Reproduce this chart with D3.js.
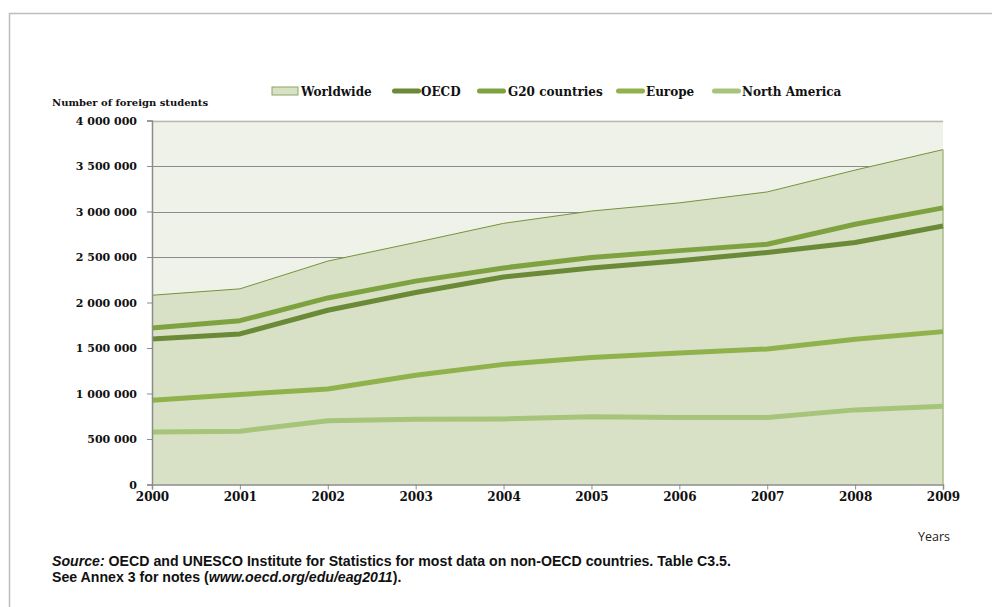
<!DOCTYPE html>
<html><head><meta charset="utf-8">
<script src="https://cdn.jsdelivr.net/npm/d3@7"></script>
<style>
body{margin:0;background:#fff;}
svg{display:block;}
.serif{font-family:"DejaVu Serif",serif;font-weight:bold;fill:#111;}
</style></head>
<body><svg id="c" width="992" height="607"></svg>
<script>
const years = [2000,2001,2002,2003,2004,2005,2006,2007,2008,2009];
const worldwide = [2080000,2150000,2455000,2660000,2870000,3005000,3095000,3215000,3455000,3680000];
const oecd = [1600000,1655000,1915000,2110000,2280000,2380000,2460000,2550000,2660000,2840000];
const g20 = [1720000,1800000,2050000,2235000,2380000,2495000,2570000,2640000,2860000,3040000];
const europe = [925000,990000,1050000,1200000,1320000,1395000,1445000,1490000,1595000,1680000];
const northAmerica = [577000,585000,700000,716000,720000,745000,735000,737000,820000,860000];
const yTicks = [0,500000,1000000,1500000,2000000,2500000,3000000,3500000,4000000];
const lineSeries = [
  {name:"OECD", values:oecd, color:"#6b8a37"},
  {name:"G20 countries", values:g20, color:"#7fa241"},
  {name:"Europe", values:europe, color:"#8fb24c"},
  {name:"North America", values:northAmerica, color:"#a6c57a"}
];

const svg = d3.select("#c");
const L=152, R=943, T=120.5, B=484.5;
const x = d3.scaleLinear().domain([2000,2009]).range([L,R]);
const y = d3.scaleLinear().domain([0,4000000]).range([B,T]);
const fmt = v => d3.format(",")(v).replace(/,/g," ");

// outer frame
svg.append("path").attr("d","M9.5,607 V13.5 H992").attr("fill","none").attr("stroke","#bdbdbd").attr("stroke-width",1.5);

// plot background
svg.append("rect").attr("x",L).attr("y",T).attr("width",R-L).attr("height",B-T).attr("fill","#eff2e8");
// gridlines
svg.append("g").selectAll("line").data(yTicks.filter(d=>d>0)).join("line")
  .attr("x1",L).attr("x2",R).attr("y1",d=>Math.round(y(d))+0.5).attr("y2",d=>Math.round(y(d))+0.5)
  .attr("stroke",(d)=>d===4000000?"#b8b8b8":"#8c8c8c").attr("stroke-width",d=>d===4000000?1.5:1);

// worldwide area
const data = years.map((yr,i)=>({yr, v:worldwide[i]}));
svg.append("path").datum(data)
  .attr("d", d3.area().x(d=>x(d.yr)).y0(B).y1(d=>y(d.v)))
  .attr("fill","#d8e1c5");
svg.append("path").datum(data)
  .attr("d", d3.line().x(d=>x(d.yr)).y(d=>y(d.v)))
  .attr("fill","none").attr("stroke","#76923c").attr("stroke-width",1);
svg.append("line").attr("x1",R).attr("x2",R).attr("y1",y(worldwide[9])).attr("y2",B)
  .attr("stroke","#a9bd86").attr("stroke-width",1.5);

// lines
lineSeries.forEach(s=>{
  svg.append("path").datum(s.values)
    .attr("d", d3.line().x((d,i)=>x(years[i])).y(d=>y(d)))
    .attr("fill","none").attr("stroke",s.color).attr("stroke-width",5).attr("stroke-linejoin","round");
});

// axes
const yAxis = svg.append("g").attr("transform",`translate(${L},0)`)
  .call(d3.axisLeft(y).tickValues(yTicks).tickFormat(fmt).tickSize(5).tickPadding(10));
const xAxis = svg.append("g").attr("transform",`translate(0,${B})`)
  .call(d3.axisBottom(x).tickValues(years).tickFormat(d3.format("d")).tickSize(5).tickPadding(3));
[yAxis,xAxis].forEach(a=>{
  a.select(".domain").attr("stroke","#8c8c8c").attr("stroke-width",1.5);
  a.selectAll(".tick line").attr("stroke","#8c8c8c");
  a.selectAll("text").attr("class","serif").attr("fill","#111");
});
yAxis.selectAll("text").attr("font-size",11);
xAxis.selectAll("text").attr("font-size",12);

// y title
svg.append("text").attr("class","serif").attr("x",52).attr("y",106).attr("font-size",10).text("Number of foreign students");

// legend
const lg = svg.append("g");
lg.append("rect").attr("x",272).attr("y",87).attr("width",26).attr("height",8).attr("fill","#d8e1c5").attr("stroke","#8aa660").attr("stroke-width",1);
lg.append("text").attr("class","serif").attr("x",301).attr("y",95.5).attr("font-size",12).text("Worldwide");
const lgPos = [392,477,616,712];
const lgText = [421,508,646,742];
lineSeries.forEach((s,i)=>{
  lg.append("line").attr("x1",lgPos[i]+2.5).attr("x2",lgPos[i]+26.5).attr("y1",91).attr("y2",91)
    .attr("stroke",s.color).attr("stroke-width",5).attr("stroke-linecap","round");
  lg.append("text").attr("class","serif").attr("x",lgText[i]).attr("y",95.5).attr("font-size",12).text(s.name);
});

// Years
svg.append("text").attr("x",918).attr("y",541).attr("font-family","'Open Sans',sans-serif").attr("font-size",12.5).attr("fill","#222").text("Years");

// source
const src = svg.append("g").attr("font-family","'Liberation Sans',sans-serif").attr("font-weight","bold").attr("font-size",15).attr("fill","#111");
const t1 = src.append("text").attr("x",0).attr("y",566);
t1.append("tspan").attr("font-style","italic").text("Source:");
t1.append("tspan").text(" OECD and UNESCO Institute for Statistics for most data on non-OECD countries. Table C3.5.");
const t2 = src.append("text").attr("x",0).attr("y",582);
t2.append("tspan").text("See Annex 3 for notes (");
t2.append("tspan").attr("font-style","italic").text("www.oecd.org/edu/eag2011");
t2.append("tspan").text(").");
const len = t1.node().getComputedTextLength();
src.attr("transform",`translate(52,0) scale(${679/len},1)`);
</script></body></html>
